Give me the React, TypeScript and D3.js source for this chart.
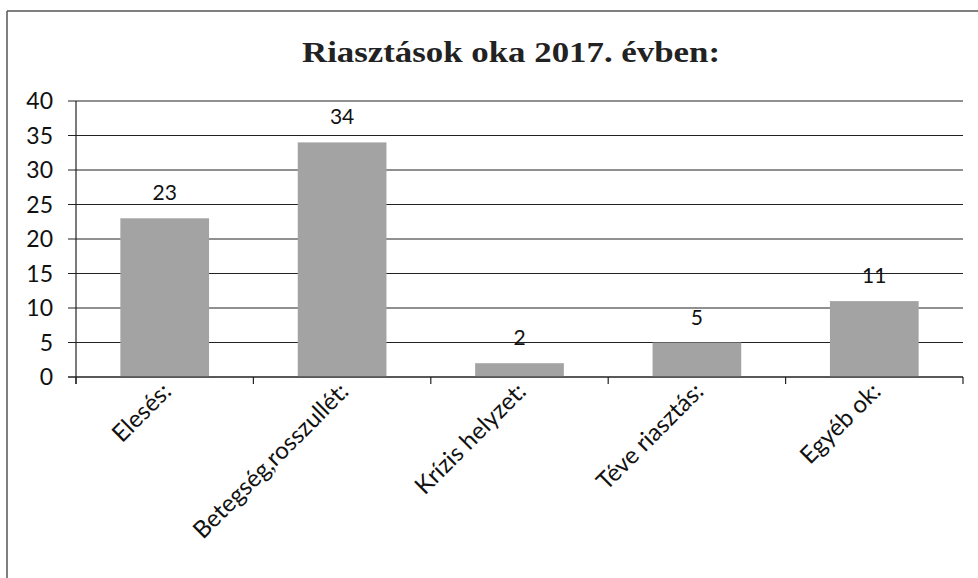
import React from "react";
import * as d3 from "d3";

const categories = ["Elesés:", "Betegség,rosszullét:", "Krízis helyzet:", "Téve riasztás:", "Egyéb ok:"];
const values = [23, 34, 2, 5, 11];
const yTicks = [0, 5, 10, 15, 20, 25, 30, 35, 40];
const title = "Riasztások oka 2017. évben:";

const W = 978;
const H = 578;
const left = 76;
const right = 963;
const top = 101;
const bottom = 377;
const sans = "Lato, 'Open Sans', sans-serif";

export default function App() {
  const x = d3.scaleBand<string>().domain(categories).range([left, right]).paddingInner(0).paddingOuter(0);
  const y = d3.scaleLinear().domain([0, 40]).range([bottom, top]);
  const step = x.step();
  const barW = step * 0.5;
  const boundaries = d3.range(categories.length + 1).map((i) => left + i * step);

  return (
    <svg width={W} height={H} style={{ position: "absolute", left: 0, top: 0, background: "#fff" }}>
      <rect x={0} y={0} width={W} height={H} fill="#fff" />
      {/* outer frame */}
      <line x1={7} y1={11} x2={W} y2={11} stroke="#555" strokeWidth={1.5} />
      <line x1={7} y1={11} x2={7} y2={H} stroke="#555" strokeWidth={1.5} />
      <text x={511} y={62} textAnchor="middle" fontFamily="'Liberation Serif', 'Times New Roman', serif" fontWeight="bold" fontSize={30} fill="#222" textLength={418} lengthAdjust="spacingAndGlyphs">
        {title}
      </text>
      {/* gridlines */}
      {yTicks.map((t) => (
        <line key={t} x1={left - 8} x2={right} y1={y(t)} y2={y(t)} stroke="#222" strokeWidth={1.2} />
      ))}
      {/* y axis line */}
      <line x1={left} x2={left} y1={top} y2={bottom + 7} stroke="#222" strokeWidth={1.2} />
      {/* category ticks */}
      {boundaries.map((b, i) => (
        <line key={i} x1={b} x2={b} y1={bottom} y2={bottom + 7} stroke="#222" strokeWidth={1.2} />
      ))}
      {/* bars */}
      {categories.map((c, i) => {
        const cx = (x(c) as number) + step / 2;
        return (
          <rect key={c} x={cx - barW / 2} y={y(values[i])} width={barW} height={bottom - y(values[i])} fill="#a3a3a3" />
        );
      })}
      {/* redraw baseline over bars */}
      <line x1={left - 8} x2={right} y1={bottom} y2={bottom} stroke="#222" strokeWidth={1.2} />
      {/* y labels */}
      {yTicks.map((t) => (
        <text key={t} x={53} y={y(t)} dy="0.36em" textAnchor="end" fontFamily={sans} fontSize={23} fill="#111">
          {t}
        </text>
      ))}
      {/* value labels */}
      {categories.map((c, i) => {
        const cx = (x(c) as number) + step / 2;
        return (
          <text key={c} x={cx} y={y(values[i]) - 18} textAnchor="middle" fontFamily={sans} fontSize={21} fill="#111">
            {values[i]}
          </text>
        );
      })}
      {/* category labels */}
      {categories.map((c) => {
        const cx = (x(c) as number) + step / 2 + 8;
        const cy = 393;
        return (
          <text key={c} x={cx} y={cy} textAnchor="end" transform={`rotate(-45, ${cx}, ${cy})`} fontFamily={sans} fontSize={24} fill="#111">
            {c}
          </text>
        );
      })}
    </svg>
  );
}
